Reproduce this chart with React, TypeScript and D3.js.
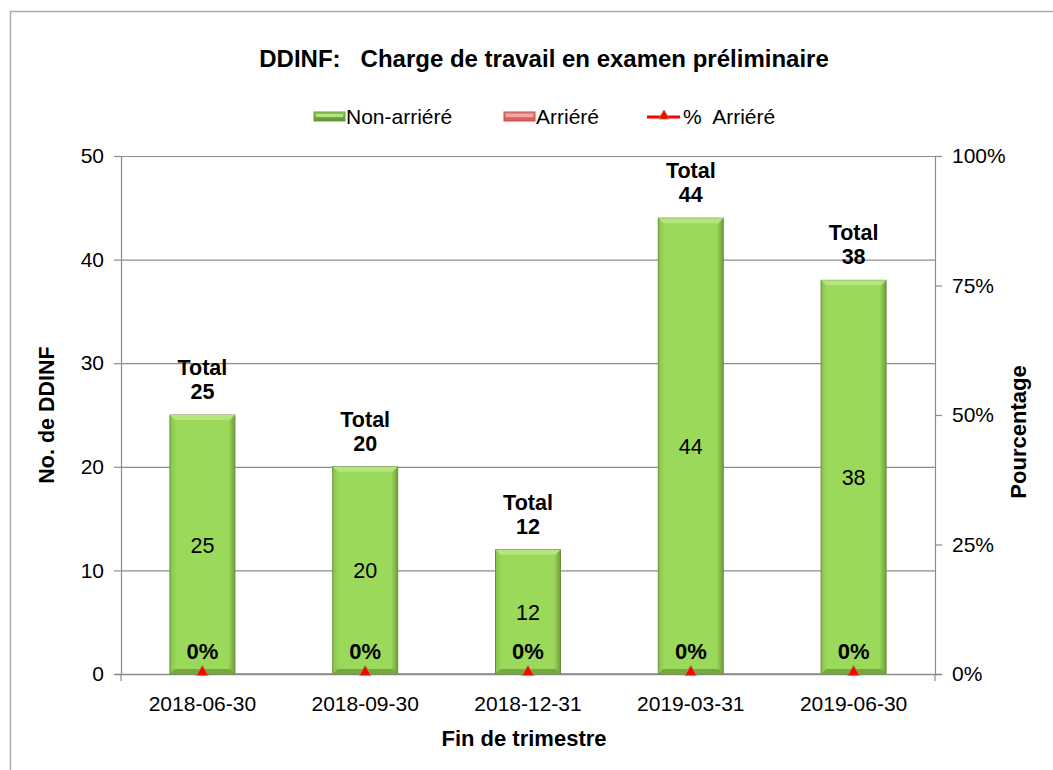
import React, { useEffect, useRef } from 'react';
import * as d3 from 'd3';

const categories = ['2018-06-30', '2018-09-30', '2018-12-31', '2019-03-31', '2019-06-30'];
const nonArriere = [25, 20, 12, 44, 38];
const arriere = [0, 0, 0, 0, 0];
const pctArriere = [0, 0, 0, 0, 0];
const leftTicks = [0, 10, 20, 30, 40, 50];
const rightTicks = [0, 0.25, 0.5, 0.75, 1];

const FONT = '"Liberation Sans", Arial, sans-serif';

export default function App() {
  const ref = useRef<SVGSVGElement | null>(null);

  useEffect(() => {
    document.body.style.margin = '0';
    const svg = d3.select(ref.current);
    svg.selectAll('*').remove();

    const W = 1053, H = 770;
    const m = { left: 121, right: 935, top: 156, bottom: 674 };

    const band = (m.right - m.left) / categories.length;
    const cx = (i: number) => m.left + band * (i + 0.5);
    const barW = 65;
    const y = d3.scaleLinear().domain([0, 50]).range([m.bottom, m.top]);
    const y2 = d3.scaleLinear().domain([0, 1]).range([m.bottom, m.top]);

    const defs = svg.append('defs');
    const g1 = defs.append('linearGradient').attr('id', 'barg').attr('x1', 0).attr('x2', 1).attr('y1', 0).attr('y2', 0);
    g1.append('stop').attr('offset', '0%').attr('stop-color', '#86c44a');
    g1.append('stop').attr('offset', '10%').attr('stop-color', '#9bd95a');
    g1.append('stop').attr('offset', '90%').attr('stop-color', '#9bd95a');
    g1.append('stop').attr('offset', '100%').attr('stop-color', '#6f9e3a');
    const g2 = defs.append('linearGradient').attr('id', 'redg').attr('x1', 0).attr('x2', 0).attr('y1', 0).attr('y2', 1);
    g2.append('stop').attr('offset', '0%').attr('stop-color', '#f08a8a');
    g2.append('stop').attr('offset', '100%').attr('stop-color', '#d85555');
    const g3 = defs.append('linearGradient').attr('id', 'greenleg').attr('x1', 0).attr('x2', 0).attr('y1', 0).attr('y2', 1);
    g3.append('stop').attr('offset', '0%').attr('stop-color', '#8fcf52');
    g3.append('stop').attr('offset', '100%').attr('stop-color', '#5f8f2e');

    svg.append('rect').attr('width', W).attr('height', H).attr('fill', '#fff');
    // outer frame
    svg.append('path').attr('d', `M10.5,${H}V11.5H${W}`).attr('fill', 'none').attr('stroke', '#aaa').attr('stroke-width', 1.5);

    // title
    svg.append('text').attr('x', 544).attr('y', 67).attr('text-anchor', 'middle')
      .attr('font-family', FONT).attr('font-weight', 'bold').attr('font-size', 24)
      .attr('xml:space', 'preserve').text('DDINF:   Charge de travail en examen préliminaire');

    // legend
    const lg = svg.append('g').attr('font-family', FONT).attr('font-size', 21);
    lg.append('rect').attr('x', 314).attr('y', 112).attr('width', 31).attr('height', 9).attr('fill', 'url(#greenleg)').attr('stroke', '#6f9e3a');
    lg.append('rect').attr('x', 316).attr('y', 114).attr('width', 27).attr('height', 3).attr('fill', '#b5e283');
    lg.append('text').attr('x', 346).attr('y', 124).text('Non-arriéré');
    lg.append('rect').attr('x', 504).attr('y', 112).attr('width', 31).attr('height', 9).attr('fill', 'url(#redg)').attr('stroke', '#c05050');
    lg.append('rect').attr('x', 506).attr('y', 114).attr('width', 27).attr('height', 3).attr('fill', '#f5a8a8');
    lg.append('text').attr('x', 536).attr('y', 124).text('Arriéré');
    lg.append('line').attr('x1', 647).attr('x2', 680).attr('y1', 117).attr('y2', 117).attr('stroke', '#ff0000').attr('stroke-width', 3);
    lg.append('path').attr('d', d3.symbol(d3.symbolTriangle, 50)()).attr('transform', 'translate(664,116)')
      .attr('fill', '#ff0000').attr('stroke', '#8aa84a').attr('stroke-width', 0.8);
    lg.append('text').attr('x', 683).attr('y', 124).attr('xml:space', 'preserve').text('%  Arriéré');

    // % arriéré line (sits on the base axis, hidden beneath it)
    const line = d3.line<number>().x((_, i) => cx(i)).y(d => y2(d));
    svg.append('path').attr('d', line(pctArriere)).attr('fill', 'none').attr('stroke', '#ff0000').attr('stroke-width', 1);

    // gridlines
    svg.append('g').selectAll('line').data(leftTicks.filter(t => t > 0)).join('line')
      .attr('x1', m.left).attr('x2', m.right).attr('y1', d => y(d) + 0.5).attr('y2', d => y(d) + 0.5)
      .attr('stroke', '#8c8c8c').attr('stroke-width', 1.2);

    // left axis
    const la = svg.append('g').attr('transform', `translate(${m.left},0)`)
      .call(d3.axisLeft(y).tickValues(leftTicks).tickSize(7).tickPadding(10));
    la.select('.domain').attr('stroke', '#8c8c8c').attr('stroke-width', 1.2);
    la.selectAll('.tick line').attr('stroke', '#8c8c8c').attr('stroke-width', 1.2);
    la.selectAll('.tick text').attr('font-family', FONT).attr('font-size', 21).attr('fill', '#000');

    // right axis
    const ra = svg.append('g').attr('transform', `translate(${m.right},0)`)
      .call(d3.axisRight(y2).tickValues(rightTicks).tickFormat(d3.format('.0%')).tickSize(7).tickPadding(10));
    ra.select('.domain').attr('stroke', '#8c8c8c').attr('stroke-width', 1.2);
    ra.selectAll('.tick line').attr('stroke', '#8c8c8c').attr('stroke-width', 1.2);
    ra.selectAll('.tick text').attr('font-family', FONT).attr('font-size', 21).attr('fill', '#000');

    // bottom axis
    svg.append('line').attr('x1', m.left - 7).attr('x2', m.right + 7).attr('y1', m.bottom + 0.5).attr('y2', m.bottom + 0.5)
      .attr('stroke', '#8c8c8c').attr('stroke-width', 1.5);
    [m.left, m.right].forEach(px => svg.append('line').attr('x1', px).attr('x2', px).attr('y1', m.bottom).attr('y2', m.bottom + 7)
      .attr('stroke', '#8c8c8c').attr('stroke-width', 1.2));
    svg.append('g').selectAll('text').data(categories).join('text')
      .attr('x', (_, i) => cx(i)).attr('y', 711).attr('text-anchor', 'middle')
      .attr('font-family', FONT).attr('font-size', 21).text(d => d);

    // axis titles
    svg.append('text').attr('x', 524).attr('y', 746).attr('text-anchor', 'middle')
      .attr('font-family', FONT).attr('font-weight', 'bold').attr('font-size', 22).text('Fin de trimestre');
    svg.append('text').attr('transform', 'translate(54,415) rotate(-90)').attr('text-anchor', 'middle')
      .attr('font-family', FONT).attr('font-weight', 'bold').attr('font-size', 21.5).text('No. de DDINF');
    svg.append('text').attr('transform', 'translate(1026,432) rotate(-90)').attr('text-anchor', 'middle')
      .attr('font-family', FONT).attr('font-weight', 'bold').attr('font-size', 22).text('Pourcentage');

    // bars
    const bars = svg.append('g');
    nonArriere.forEach((v, i) => {
      const x0 = cx(i) - barW / 2;
      const yt = y(v);
      const h = y(0) - yt;
      const b = bars.append('g');
      b.append('rect').attr('x', x0).attr('y', yt).attr('width', barW).attr('height', h)
        .attr('fill', 'url(#barg)').attr('stroke', '#6a8f3f').attr('stroke-width', 1);
      // bevel highlights
      b.append('path').attr('d', `M${x0},${yt}H${x0 + barW}L${x0 + barW - 5},${yt + 5}H${x0 + 5}Z`).attr('fill', '#b4e57e');
      b.append('path').attr('d', `M${x0},${yt + h}H${x0 + barW}L${x0 + barW - 5},${yt + h - 5}H${x0 + 5}Z`).attr('fill', '#76a640');
      const a = arriere[i];
      if (a > 0) {
        b.append('rect').attr('x', x0).attr('y', y(v + a)).attr('width', barW).attr('height', y(v) - y(v + a)).attr('fill', 'url(#redg)');
      }
      b.append('text').attr('x', cx(i)).attr('y', (yt + y(0)) / 2 + 8).attr('text-anchor', 'middle')
        .attr('font-family', FONT).attr('font-size', 21.5).text(v);
      const tot = v + a;
      const ty = y(tot);
      b.append('text').attr('x', cx(i)).attr('y', ty - 40).attr('text-anchor', 'middle')
        .attr('font-family', FONT).attr('font-weight', 'bold').attr('font-size', 21.5).text('Total');
      b.append('text').attr('x', cx(i)).attr('y', ty - 16).attr('text-anchor', 'middle')
        .attr('font-family', FONT).attr('font-weight', 'bold').attr('font-size', 21.5).text(tot);
    });

    // markers + % labels
    const mk = svg.append('g');
    pctArriere.forEach((p, i) => {
      mk.append('path').attr('d', d3.symbol(d3.symbolTriangle, 60)()).attr('transform', `translate(${cx(i)},${y2(p) - 2})`)
        .attr('fill', '#ff0000').attr('stroke', '#8aa84a').attr('stroke-width', 0.8);
      mk.append('text').attr('x', cx(i)).attr('y', y2(p) - 15).attr('text-anchor', 'middle')
        .attr('font-family', FONT).attr('font-weight', 'bold').attr('font-size', 22).text(d3.format('.0%')(p));
    });
  }, []);

  return <svg ref={ref} width={1053} height={770} style={{ display: 'block' }} />;
}
